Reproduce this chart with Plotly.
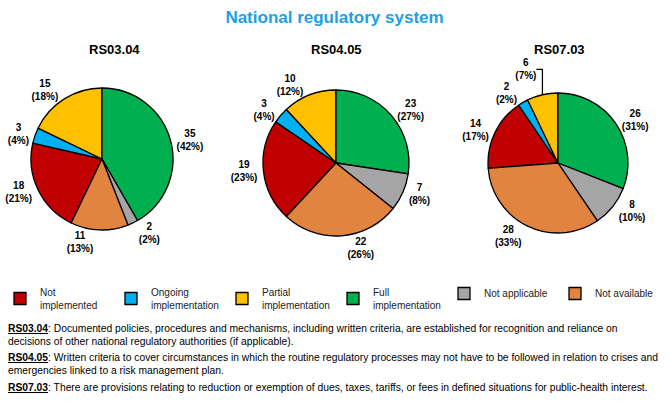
import plotly.graph_objects as go

# Categories in legend order (also clockwise slice order, cyclically)
categories = ["Not<br>implemented", "Ongoing<br>implementation", "Partial<br>implementation",
              "Full<br>implementation", "Not applicable", "Not available"]
colors = ["#C00000", "#00B0F0", "#FFC000", "#00B050", "#A5A5A5", "#E0843F"]

indicators = ["RS03.04", "RS04.05", "RS07.03"]
rs0304 = [18, 3, 15, 35, 2, 11]
rs0405 = [19, 3, 10, 23, 7, 22]
rs0703 = [14, 2, 6, 26, 8, 28]
series = [rs0304, rs0405, rs0703]

footnotes = [
    ("RS03.04", "Documented policies, procedures and mechanisms, including written criteria, are established for recognition and reliance on",
     "decisions of other national regulatory authorities (if applicable)."),
    ("RS04.05", "Written criteria to cover circumstances in which the routine regulatory processes may not have to be followed in relation to crises and",
     "emergencies linked to a risk management plan."),
    ("RS07.03", "There are provisions relating to reduction or exemption of dues, taxes, tariffs, or fees in defined situations for public-health interest.",
     None),
]

W, H = 669, 405
SANS = "Liberation Sans, Arial, sans-serif"

# pie boxes in pixels: (left, top, size)
boxes = [(31, 88, 142), (263, 90, 146), (488, 93, 140)]
title_x = [114, 336, 559]

fig = go.Figure()
for name, vals, (l, t, s) in zip(indicators, series, boxes):
    total = sum(vals)
    # start the "Full implementation" slice at 12 o'clock, clockwise
    rot = 360.0 * sum(vals[3:]) / total
    if rot > 180:
        rot -= 360
    fig.add_trace(go.Pie(
        labels=categories, values=vals, name=name, sort=False,
        direction="clockwise", rotation=rot,
        marker=dict(colors=colors, line=dict(color="black", width=1.3)),
        textposition="outside",
        texttemplate="<b>%{value}<br>(%{percent:.0%})</b>",
        textfont=dict(family=SANS, size=10, color="black"),
        domain=dict(x=[l / W, (l + s) / W], y=[1 - (t + s) / H, 1 - t / H]),
        showlegend=True,
    ))

annotations = []
for name, x in zip(indicators, title_x):
    annotations.append(dict(text="<b>%s</b>" % name, x=x / W, y=1 - 49 / H, xref="paper", yref="paper",
                            xanchor="center", yanchor="middle", showarrow=False,
                            font=dict(family=SANS, size=13, color="black")))

line_y = [(328, 341), (357, 370), (387, None)]
for (code, l1, l2), (y1, y2) in zip(footnotes, line_y):
    annotations.append(dict(text="<b><u>%s</u></b>: %s" % (code, l1), x=6 / W, y=1 - y1 / H,
                            xref="paper", yref="paper", xanchor="left", yanchor="middle",
                            showarrow=False, font=dict(family=SANS, size=10.3, color="black")))
    if l2:
        annotations.append(dict(text=l2, x=6 / W, y=1 - y2 / H,
                                xref="paper", yref="paper", xanchor="left", yanchor="middle",
                                showarrow=False, font=dict(family=SANS, size=10.3, color="black")))

fig.update_layout(
    width=W, height=H,
    margin=dict(l=0, r=0, t=0, b=0),
    paper_bgcolor="white", plot_bgcolor="white",
    title=dict(text="<b>National regulatory system</b>", x=0.5, xanchor="center",
               y=1 - 17 / H, yanchor="middle",
               font=dict(family=SANS, size=17, color="#1BA1E2")),
    legend=dict(orientation="h", x=0, xanchor="left", y=1 - 279 / H, yanchor="top",
                font=dict(family=SANS, size=10, color="#222222"),
                entrywidth=66, entrywidthmode="pixels", traceorder="normal",
                bgcolor="rgba(0,0,0,0)"),
    annotations=annotations,
)

fig.write_html("out.html", config={"displayModeBar": False},
               post_script="document.body.style.margin='0';document.body.style.overflow='hidden';")
